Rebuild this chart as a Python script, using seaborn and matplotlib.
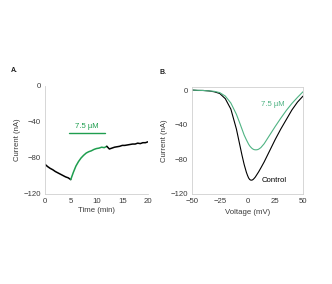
#!/usr/bin/env python3
"""
Current traces: (A) current over time with a 7.5 uM application,
(B) current-voltage curves for control vs 7.5 uM.
"""
import pandas as pd
import seaborn as sns
import matplotlib.pyplot as plt

# --- Panel A: current vs time (min) ---
time_pre = [0, 0.5, 1, 1.5, 2, 2.5, 3, 3.5, 4, 4.5, 5]
curr_pre = [-87, -89.5, -91.5, -93, -95, -96.5, -98, -99.5, -101, -102, -104]

time_drug = [5, 5.5, 6, 6.5, 7, 7.5, 8, 8.5, 9, 9.5, 10, 10.5, 11, 11.5, 12]
curr_drug = [-104, -96, -89, -84, -80, -77, -74.5, -73, -72, -70.5, -69.5, -69, -68, -68.5, -67]

time_wash = [12, 12.5, 13, 13.5, 14, 14.5, 15, 15.5, 16, 16.5, 17, 17.5, 18, 18.5, 19, 19.5, 20]
curr_wash = [-67, -70, -69, -68, -67.5, -67, -66, -66, -65.5, -65, -64.5, -64.5, -63.5, -64, -63, -63, -62]

drug_bar = [4.7, 11.6]   # application period (min)
drug_bar_level = -52

# --- Panel B: I-V curves ---
voltage = [-50, -45, -40, -35, -30, -25, -20, -15, -10, -7, -5, -3, -1, 0, 1, 2, 3, 4,
           5, 6, 7, 8, 9, 10, 12, 15, 20, 25, 30, 35, 40, 45, 50]
i_control = [0, -0.5, -0.5, -1, -2, -4, -10, -22, -45, -63, -75, -86, -95, -98.5, -101.5, -103.3, -104, -104,
             -103.3, -102, -100.5, -98.5, -96.5, -94.5, -90, -83,
             -70, -57, -45, -34, -23, -14, -7]
i_drug = [0, -0.3, -0.5, -1, -1.5, -3, -7, -15, -28, -38, -45, -52, -57.5, -60, -62.5, -64.5, -66, -67.3,
          -68.2, -68.8, -69, -69, -68.8, -68.3, -66.5, -62,
          -52, -42, -32.5, -23.5, -15.5, -8.5, -2]

GREEN_A = "#1f9e4f"
GREEN_B = "#4fb383"
TEXT = "#3a3a3a"
AXIS = "#d0d0d0"
FS = 5.6


def style_axes(ax, full_frame=False):
    for side in ["left", "bottom", "top", "right"]:
        ax.spines[side].set_color(AXIS)
        ax.spines[side].set_linewidth(0.6)
    if not full_frame:
        ax.spines["top"].set_visible(False)
        ax.spines["right"].set_visible(False)
    ax.tick_params(length=0, labelsize=FS, colors=TEXT, pad=3)


def plot_panel_a(ax):
    pre = pd.DataFrame({"t": time_pre, "i": curr_pre})
    drug = pd.DataFrame({"t": time_drug, "i": curr_drug})
    wash = pd.DataFrame({"t": time_wash, "i": curr_wash})
    sns.lineplot(data=pre, x="t", y="i", color="black", lw=1.1, ax=ax)
    sns.lineplot(data=drug, x="t", y="i", color=GREEN_A, lw=1.1, ax=ax)
    sns.lineplot(data=wash, x="t", y="i", color="black", lw=1.1, ax=ax)

    ax.plot(drug_bar, [drug_bar_level, drug_bar_level], color=GREEN_A, lw=1.0)
    ax.text(sum(drug_bar) / 2, drug_bar_level + 3.5, "7.5 µM", color=GREEN_A,
            fontsize=FS, ha="center", va="bottom")

    ax.set_xlim(0, 20)
    ax.set_ylim(-120, 0)
    ax.set_xticks([0, 5, 10, 15, 20])
    ax.set_yticks([0, -40, -80, -120])
    ax.set_xlabel("Time (min)", fontsize=FS, color=TEXT, labelpad=1.5)
    ax.set_ylabel("Current (nA)", fontsize=FS, color=TEXT, labelpad=2)
    style_axes(ax)


def plot_panel_b(ax):
    iv = pd.DataFrame({"v": voltage, "control": i_control, "drug": i_drug})
    sns.lineplot(data=iv, x="v", y="control", color="black", lw=0.8, ax=ax)
    sns.lineplot(data=iv, x="v", y="drug", color=GREEN_B, lw=0.8, ax=ax)

    ax.text(22.5, -17, "7.5 µM", color=GREEN_B, fontsize=FS, ha="center", va="center")
    ax.text(24, -104, "Control", color="black", fontsize=FS, ha="center", va="center")

    ax.set_xlim(-50, 50)
    ax.set_ylim(-120, 3.5)
    ax.set_xticks([-50, -25, 0, 25, 50])
    ax.set_yticks([0, -40, -80, -120])
    ax.set_xlabel("Voltage (mV)", fontsize=FS, color=TEXT, labelpad=3)
    ax.set_ylabel("Current (nA)", fontsize=FS, color=TEXT, labelpad=2)
    style_axes(ax, full_frame=True)


def main():
    sns.set_style("white")
    plt.rcParams["font.family"] = ["Liberation Sans", "DejaVu Sans"]

    fig = plt.figure(figsize=(3.32, 2.84), dpi=100)
    ax_a = fig.add_axes([45 / 332, 1 - 194 / 284, 103 / 332, 108 / 284])
    ax_b = fig.add_axes([192 / 332, 1 - 194 / 284, 111 / 332, 107 / 284])

    plot_panel_a(ax_a)
    plot_panel_b(ax_b)

    fig.text(11 / 332, 1 - 71 / 284, "A.", fontsize=FS - 0.6, fontweight="bold", color="#202020",
             va="center")
    fig.text(159 / 332, 1 - 72 / 284, "B.", fontsize=FS - 0.6, fontweight="bold", color="#202020",
             va="center")

    fig.savefig("out.png", dpi=100)
    plt.close(fig)


if __name__ == "__main__":
    main()
